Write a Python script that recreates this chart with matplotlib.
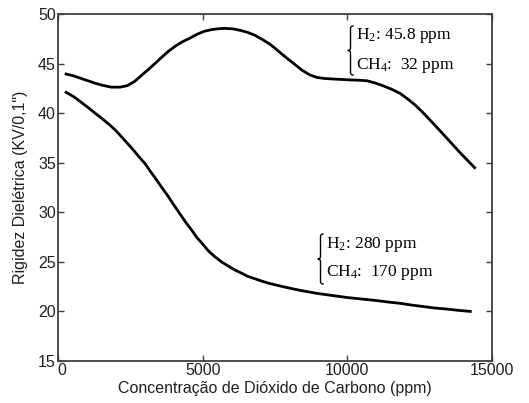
import numpy as np
import matplotlib
matplotlib.use("Agg")
import matplotlib.pyplot as plt
import matplotlib.transforms as mtransforms

plt.rcParams["mathtext.fontset"] = "custom"
plt.rcParams["mathtext.rm"] = "Liberation Serif"
plt.rcParams["mathtext.it"] = "Liberation Serif:italic"

# upper curve: H2 45.8 ppm / CH4 32 ppm
co2_a = [280, 550, 800, 1050, 1300, 1550, 1850, 2150, 2400, 2650, 2900, 3120,
         3350, 3570, 3800, 4050, 4300, 4550, 4800, 5050, 5300, 5550, 5770, 6050,
         6300, 6550, 6810, 7050, 7300, 7500, 7700, 7950, 8190, 8450, 8710, 8950,
         9200, 9520, 9800, 10100, 10400, 10670, 10950, 11200, 11500, 11820, 12100,
         12350, 12600, 12860, 13130, 13400, 13650, 13900, 14150, 14400]
rig_a = [43.95, 43.75, 43.5, 43.25, 43.0, 42.8, 42.62, 42.62, 42.78, 43.2, 43.85, 44.4,
         45.0, 45.6, 46.2, 46.75, 47.2, 47.55, 47.95, 48.25, 48.42, 48.52, 48.55, 48.5,
         48.35, 48.15, 47.85, 47.45, 47.0, 46.55, 46.05, 45.45, 44.9, 44.3, 43.85, 43.6,
         43.5, 43.44, 43.4, 43.35, 43.32, 43.27, 43.05, 42.8, 42.45, 42.0, 41.4,
         40.8, 40.1, 39.3, 38.45, 37.6, 36.8, 36.0, 35.25, 34.5]

# lower curve: H2 280 ppm / CH4 170 ppm
co2_b = [280, 550, 800, 1050, 1280, 1500, 1750, 1980, 2200, 2400, 2600, 2800,
         3010, 3200, 3400, 3600, 3810, 4000, 4200, 4400, 4620, 4800, 5000, 5200,
         5430, 5650, 5900, 6100, 6350, 6550, 6800, 7000, 7270, 7700, 8190, 8600,
         9000, 9500, 10000, 10500, 11000, 11400, 11820, 12200, 12600, 13000, 13400,
         13800, 14250]
rig_b = [42.1, 41.65, 41.1, 40.55, 40.0, 39.5, 38.9, 38.3, 37.6, 36.95, 36.3, 35.6,
         34.9, 34.1, 33.3, 32.45, 31.6, 30.75, 29.9, 29.05, 28.2, 27.45, 26.8, 26.1,
         25.5, 25.0, 24.55, 24.2, 23.85, 23.55, 23.3, 23.1, 22.85, 22.55, 22.23, 22.0,
         21.8, 21.6, 21.4, 21.25, 21.1, 20.95, 20.82, 20.65, 20.5, 20.35, 20.25,
         20.12, 20.0]

labels_a = ["H$_2$: 45.8 ppm", "CH$_4$:  32 ppm"]
labels_b = ["H$_2$: 280 ppm", "CH$_4$:  170 ppm"]

W, H = 529, 403
fig = plt.figure(figsize=(W / 100, H / 100), dpi=100)
ax = fig.add_axes([58 / W, 1 - 361 / H, (492 - 58) / W, (361 - 14) / H])

ax.plot(co2_a, rig_a, color="black", lw=2.0, solid_joinstyle="round")
ax.plot(co2_b, rig_b, color="black", lw=2.0, solid_joinstyle="round")

ax.set_xlim(0, 15000)
ax.set_ylim(15, 50)
ax.set_xticks([0, 5000, 10000, 15000])
ax.set_yticks(np.arange(15, 51, 5))
ax.tick_params(direction="in", top=True, right=True, length=4, width=1,
               color="#404040", labelsize=11.5, pad=1.5)
for lab in ax.get_xticklabels() + ax.get_yticklabels():
    lab.set_family("Liberation Sans")
    lab.set_color("#202020")
for sp in ax.spines.values():
    sp.set_color("#404040")
    sp.set_linewidth(1.3)

# nudge the "0" on x right, like the original where it sits next to "15"
zero = ax.get_xticklabels()[0]
zero.set_transform(zero.get_transform() +
                   mtransforms.ScaledTranslation(4 / 100, 0, fig.dpi_scale_trans))

ax.set_xlabel("Concentração de Dióxido de Carbono (ppm)", family="Liberation Sans",
              fontsize=11.5, labelpad=2, color="#202020")
ax.set_ylabel('Rigidez Dielétrica (KV/0,1")', family="Liberation Sans",
              fontsize=11.5, labelpad=7, color="#202020")


def brace(px, ptop, pbot, r=2.5):
    # curly brace in pixel coords (y down): hooks at the ends, tip to the left
    mid = (ptop + pbot) / 2
    th = np.linspace(0, np.pi / 2, 15)
    hook_x = px + 2 * r - r * np.sin(th)
    hook_y = ptop + r - r * np.cos(th)
    tip_x = px + r * np.cos(th)
    tip_y = mid - r + r * np.sin(th)
    xs = np.concatenate([hook_x, tip_x])
    ys = np.concatenate([hook_y, tip_y])
    xs_all = np.concatenate([xs, xs[::-1]])
    ys_all = np.concatenate([ys, 2 * mid - ys[::-1]])
    fig.add_artist(plt.Line2D(xs_all / W, 1 - ys_all / H, color="black", lw=1.0))


def label_block(px, ptop, pbot, lines, f1, f2):
    brace(px, ptop, pbot)
    for f, s in zip((f1, f2), lines):
        y = ptop + (pbot - ptop) * f
        fig.text((px + 8) / W, 1 - y / H, s, family="Liberation Serif",
                 fontsize=12.5, va="center", ha="left")


label_block(348, 26, 75, labels_a, 0.19, 0.80)
label_block(318, 234, 284, labels_b, 0.22, 0.78)

fig.savefig("out.png", dpi=100)
